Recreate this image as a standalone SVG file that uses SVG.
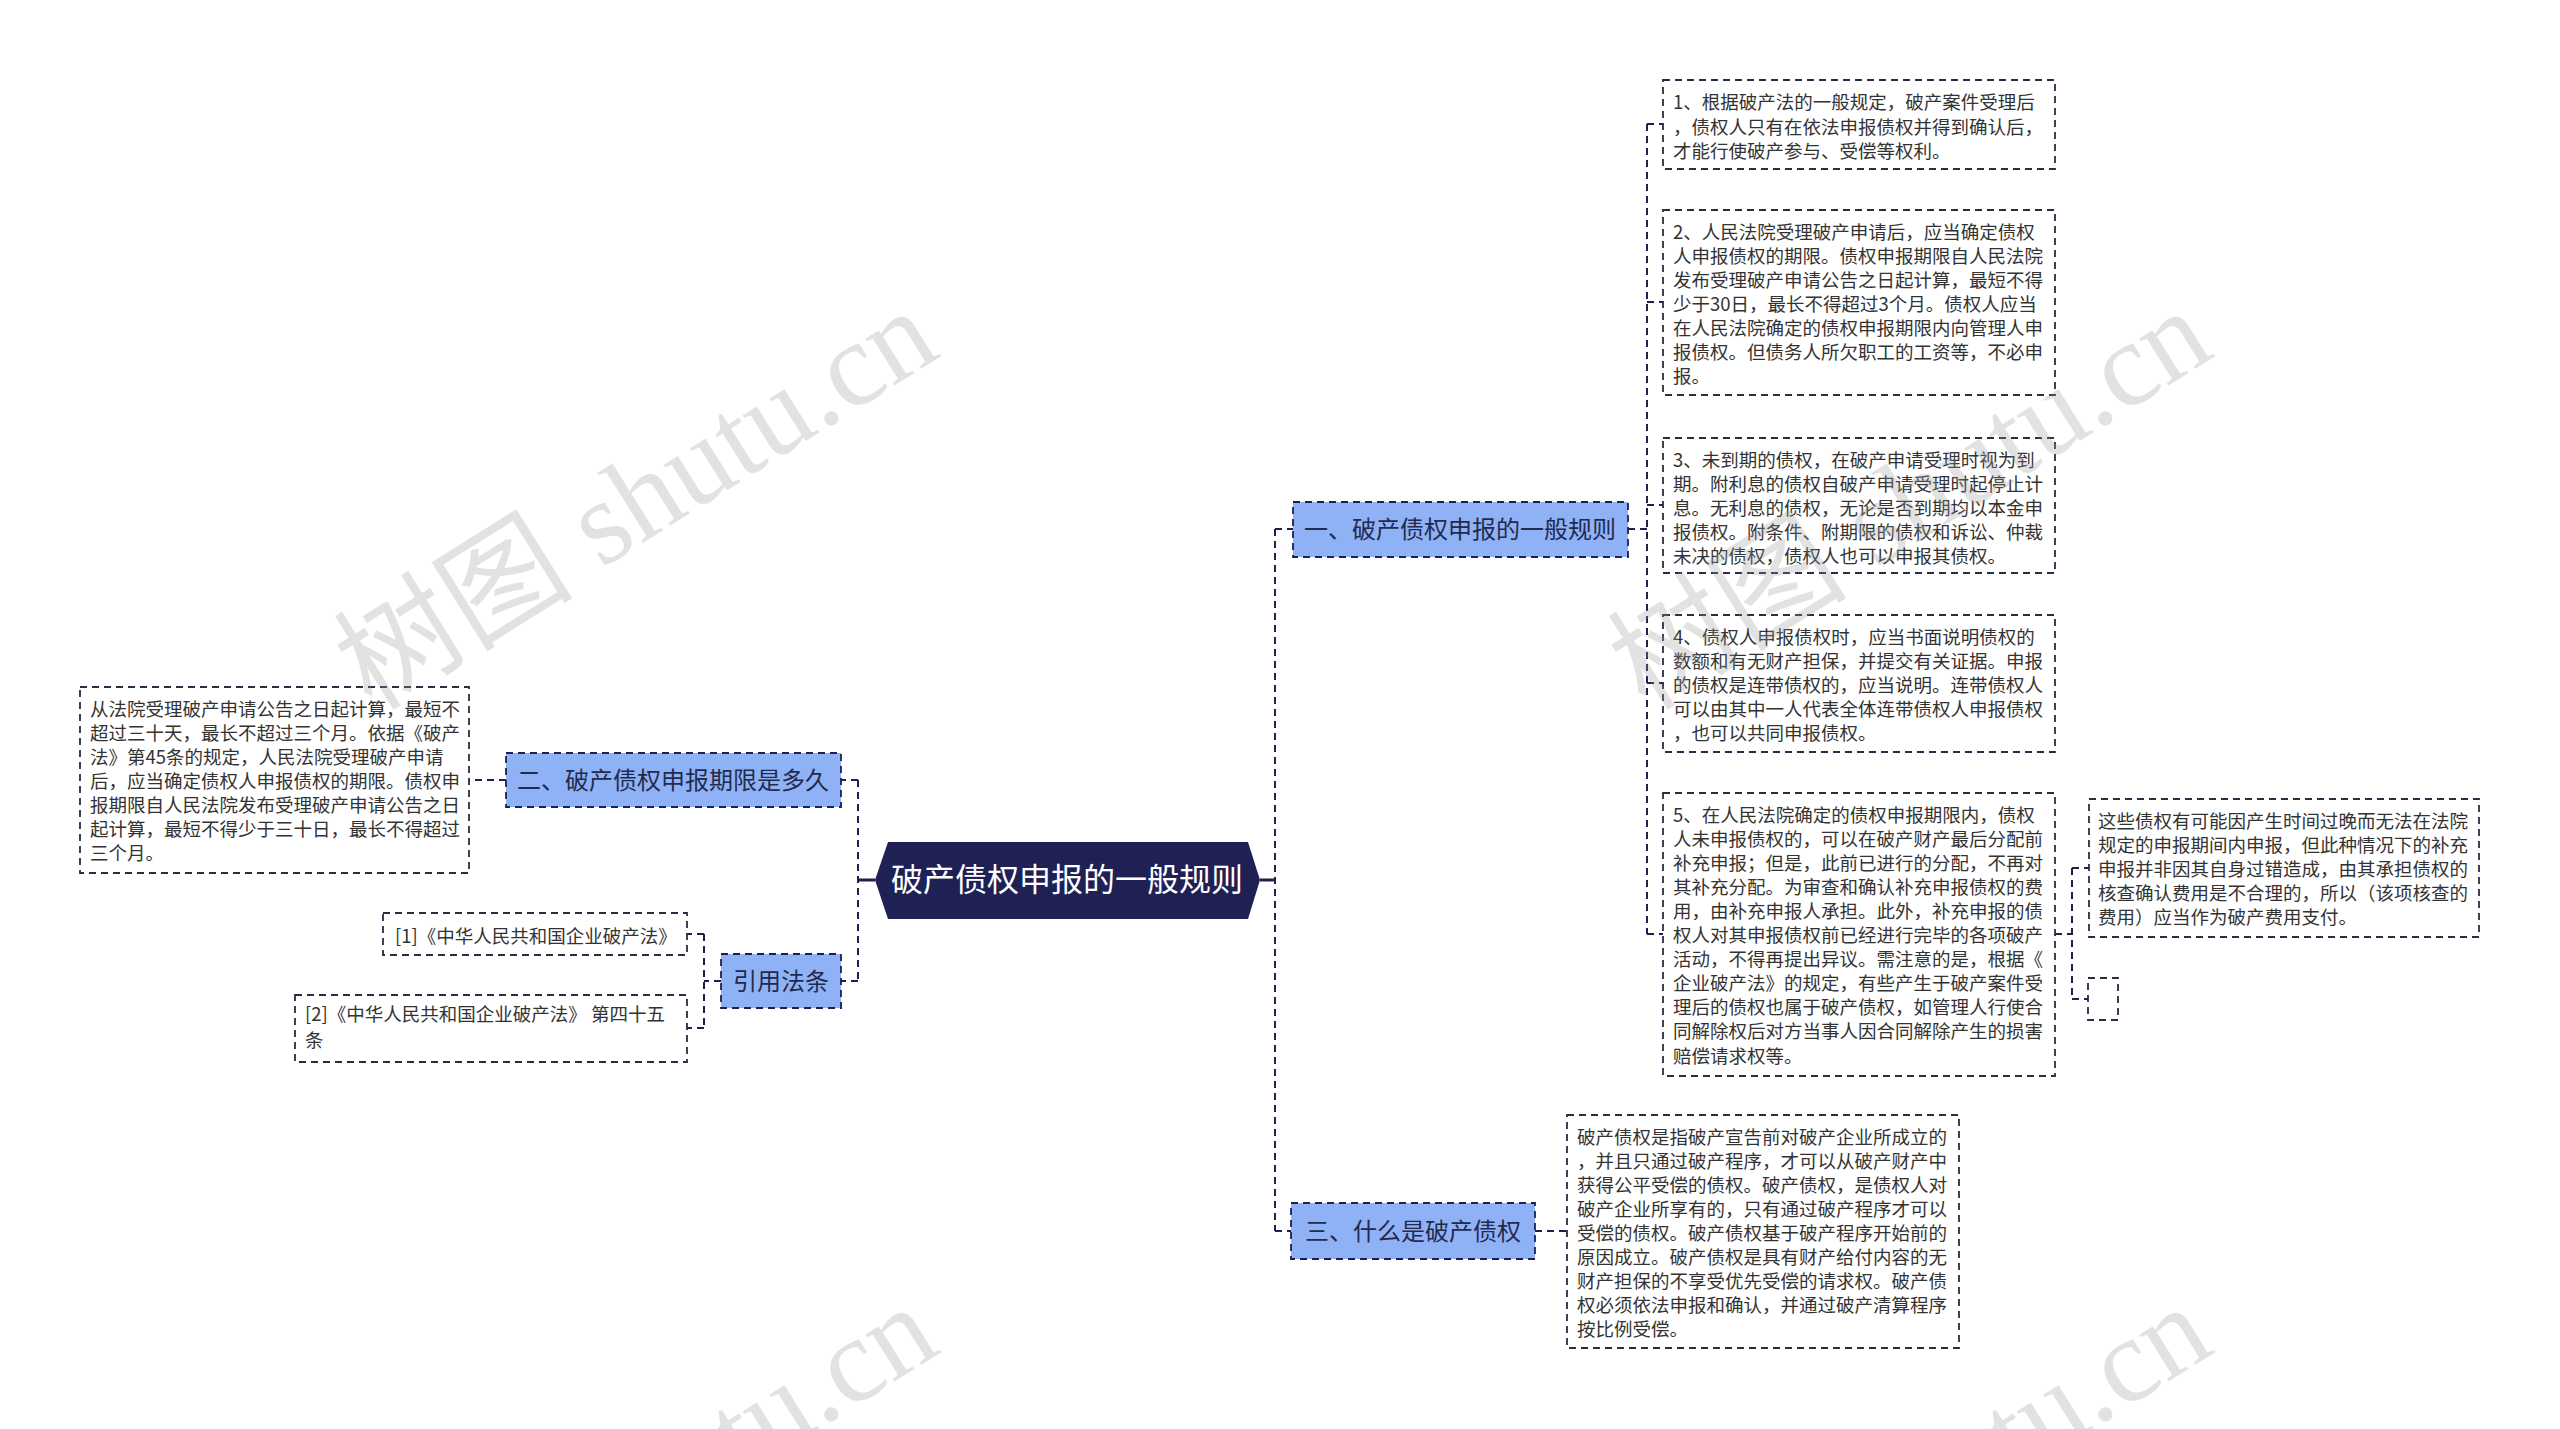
<svg xmlns="http://www.w3.org/2000/svg" width="2560" height="1429" viewBox="0 0 2560 1429">
<style>
.conn{fill:none;stroke:#1f2050;stroke-width:2;stroke-dasharray:7 5}
.solid{fill:none;stroke:#1f2050;stroke-width:3}
.l1 rect{fill:#8fb2f6;stroke:#1f2050;stroke-width:1.8;stroke-dasharray:7 5}
.l1 text{font-family:"Noto Sans CJK SC","Noto Sans",sans-serif;font-size:24px;fill:#232a4e;text-anchor:middle}
.leaf rect{fill:#fff;stroke:#2a2c44;stroke-width:1.8;stroke-dasharray:7 5}
.leaf text{font-family:"Noto Sans CJK SC","Noto Sans",sans-serif;font-size:18.5px;fill:#333}
.wm{font-family:"Liberation Serif","Noto Sans CJK SC",serif;font-size:120px;fill:#9a9a9a;opacity:0.28}
</style>
<rect width="2560" height="1429" fill="#fff"/>

<g id="connectors">
  <line class="solid" x1="1260" y1="880" x2="1276" y2="880"/>
  <line class="solid" x1="858" y1="880" x2="875" y2="880"/>
  <path class="conn" d="M1275 529 V1231 M1275 529 H1293 M1275 1231 H1291"/>
  <path class="conn" d="M858 780 V981 M858 780 H841 M858 981 H841"/>
  <path class="conn" d="M506 780 H469"/>
  <path class="conn" d="M721 981 H704 M704 934 V1028 M704 934 H687 M704 1028 H687"/>
  <path class="conn" d="M1628 529 H1647 M1647 124 V934 M1647 124 H1663 M1647 302 H1663 M1647 505 H1663 M1647 683 H1663 M1647 934 H1663"/>
  <path class="conn" d="M2055 934 H2072 M2072 868 V999 M2072 868 H2089 M2072 999 H2088"/>
  <path class="conn" d="M1535 1231 H1567"/>
</g>

<g id="center">
  <polygon points="875,880 888,842 1248,842 1260,880 1248,919 888,919" fill="#1f2155"/>
  <text x="1067" y="891" font-family="Noto Sans CJK SC,Noto Sans,sans-serif" font-size="32" fill="#fff" text-anchor="middle">破产债权申报的一般规则</text>
</g>

<g id="n1" class="l1"><rect x="1293" y="502" width="335" height="55"/><text x="1460" y="538">一、破产债权申报的一般规则</text></g>
<g id="n2" class="l1"><rect x="506" y="753" width="335" height="54"/><text x="673" y="789">二、破产债权申报期限是多久</text></g>
<g id="n3" class="l1"><rect x="721" y="954" width="120" height="54"/><text x="781" y="990">引用法条</text></g>
<g id="n4" class="l1"><rect x="1291" y="1203" width="244" height="56"/><text x="1413" y="1240">三、什么是破产债权</text></g>

<g id="leaf1" class="leaf"><rect x="1663" y="80" width="392" height="89"/>
<text x="1673" y="109">1、根据破产法的一般规定，破产案件受理后</text>
<text x="1673" y="133.5">，债权人只有在依法申报债权并得到确认后，</text>
<text x="1673" y="158">才能行使破产参与、受偿等权利。</text></g>

<g id="leaf2" class="leaf"><rect x="1663" y="210" width="392" height="185"/>
<text x="1673" y="238.5">2、人民法院受理破产申请后，应当确定债权</text>
<text x="1673" y="262.6">人申报债权的期限。债权申报期限自人民法院</text>
<text x="1673" y="286.7">发布受理破产申请公告之日起计算，最短不得</text>
<text x="1673" y="310.8">少于30日，最长不得超过3个月。债权人应当</text>
<text x="1673" y="334.9">在人民法院确定的债权申报期限内向管理人申</text>
<text x="1673" y="359">报债权。但债务人所欠职工的工资等，不必申</text>
<text x="1673" y="383.1">报。</text></g>

<g id="leaf3" class="leaf"><rect x="1663" y="438" width="392" height="135"/>
<text x="1673" y="466.5">3、未到期的债权，在破产申请受理时视为到</text>
<text x="1673" y="490.6">期。附利息的债权自破产申请受理时起停止计</text>
<text x="1673" y="514.7">息。无利息的债权，无论是否到期均以本金申</text>
<text x="1673" y="538.8">报债权。附条件、附期限的债权和诉讼、仲裁</text>
<text x="1673" y="562.9">未决的债权，债权人也可以申报其债权。</text></g>

<g id="leaf4" class="leaf"><rect x="1663" y="615" width="392" height="137"/>
<text x="1673" y="643.5">4、债权人申报债权时，应当书面说明债权的</text>
<text x="1673" y="667.6">数额和有无财产担保，并提交有关证据。申报</text>
<text x="1673" y="691.7">的债权是连带债权的，应当说明。连带债权人</text>
<text x="1673" y="715.8">可以由其中一人代表全体连带债权人申报债权</text>
<text x="1673" y="739.9">，也可以共同申报债权。</text></g>

<g id="leaf5" class="leaf"><rect x="1663" y="793" width="392" height="283"/>
<text x="1673" y="821.5">5、在人民法院确定的债权申报期限内，债权</text>
<text x="1673" y="845.6">人未申报债权的，可以在破产财产最后分配前</text>
<text x="1673" y="869.7">补充申报；但是，此前已进行的分配，不再对</text>
<text x="1673" y="893.8">其补充分配。为审查和确认补充申报债权的费</text>
<text x="1673" y="917.9">用，由补充申报人承担。此外，补充申报的债</text>
<text x="1673" y="942">权人对其申报债权前已经进行完毕的各项破产</text>
<text x="1673" y="966.1">活动，不得再提出异议。需注意的是，根据《</text>
<text x="1673" y="990.2">企业破产法》的规定，有些产生于破产案件受</text>
<text x="1673" y="1014.3">理后的债权也属于破产债权，如管理人行使合</text>
<text x="1673" y="1038.4">同解除权后对方当事人因合同解除产生的损害</text>
<text x="1673" y="1062.5">赔偿请求权等。</text></g>

<g id="leaf5a" class="leaf"><rect x="2089" y="799" width="390" height="138"/>
<text x="2098" y="827.5">这些债权有可能因产生时间过晚而无法在法院</text>
<text x="2098" y="851.6">规定的申报期间内申报，但此种情况下的补充</text>
<text x="2098" y="875.7">申报并非因其自身过错造成，由其承担债权的</text>
<text x="2098" y="899.8">核查确认费用是不合理的，所以（该项核查的</text>
<text x="2098" y="923.9">费用）应当作为破产费用支付。</text></g>

<g id="leaf5b" class="leaf"><rect x="2088" y="978" width="30" height="42"/></g>

<g id="leaf6" class="leaf"><rect x="1567" y="1115" width="392" height="233"/>
<text x="1577" y="1143.5">破产债权是指破产宣告前对破产企业所成立的</text>
<text x="1577" y="1167.6">，并且只通过破产程序，才可以从破产财产中</text>
<text x="1577" y="1191.7">获得公平受偿的债权。破产债权，是债权人对</text>
<text x="1577" y="1215.8">破产企业所享有的，只有通过破产程序才可以</text>
<text x="1577" y="1239.9">受偿的债权。破产债权基于破产程序开始前的</text>
<text x="1577" y="1264">原因成立。破产债权是具有财产给付内容的无</text>
<text x="1577" y="1288.1">财产担保的不享受优先受偿的请求权。破产债</text>
<text x="1577" y="1312.2">权必须依法申报和确认，并通过破产清算程序</text>
<text x="1577" y="1336.3">按比例受偿。</text></g>

<g id="leaf7" class="leaf"><rect x="80" y="687" width="389" height="186"/>
<text x="90" y="715.5">从法院受理破产申请公告之日起计算，最短不</text>
<text x="90" y="739.6">超过三十天，最长不超过三个月。依据《破产</text>
<text x="90" y="763.7">法》第45条的规定，人民法院受理破产申请</text>
<text x="90" y="787.8">后，应当确定债权人申报债权的期限。债权申</text>
<text x="90" y="811.9">报期限自人民法院发布受理破产申请公告之日</text>
<text x="90" y="836">起计算，最短不得少于三十日，最长不得超过</text>
<text x="90" y="860.1">三个月。</text></g>

<g id="ref1" class="leaf"><rect x="383" y="913" width="304" height="42"/>
<text x="395" y="943">[1]《中华人民共和国企业破产法》</text></g>
<g id="ref2" class="leaf"><rect x="295" y="995" width="392" height="67"/>
<text x="305" y="1021">[2]《中华人民共和国企业破产法》 第四十五</text>
<text x="305" y="1047">条</text></g>

<g id="watermarks">
  <text class="wm" transform="translate(372,712) rotate(-32)">树图 shutu.cn</text>
  <text class="wm" transform="translate(1646,712) rotate(-32)">树图 shutu.cn</text>
  <text class="wm" transform="translate(372,1708) rotate(-32)">树图 shutu.cn</text>
  <text class="wm" transform="translate(1646,1708) rotate(-32)">树图 shutu.cn</text>
</g>
</svg>
